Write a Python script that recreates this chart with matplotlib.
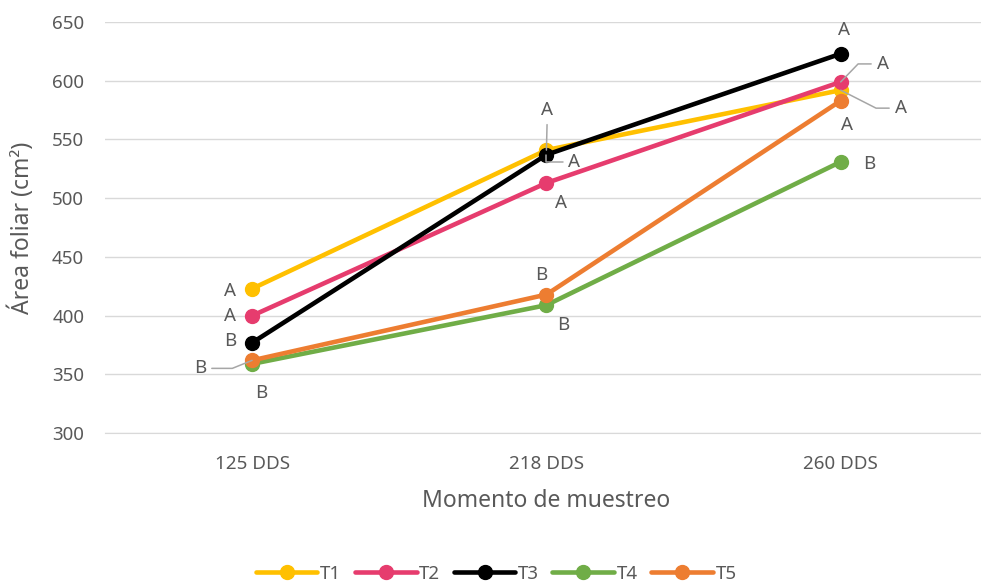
import matplotlib.pyplot as plt

plt.rcParams["font.family"] = ["Noto Sans", "DejaVu Sans"]

moments = ["125 DDS", "218 DDS", "260 DDS"]
series_names = ["T1", "T2", "T3", "T4", "T5"]
t1 = [423, 541, 592]
t2 = [400, 513, 599]
t3 = [377, 537, 623]
t4 = [359, 409, 531]
t5 = [362, 418, 583]
letters = {
    "T1": ["A", "A", "A"],
    "T2": ["A", "A", "A"],
    "T3": ["B", "A", "A"],
    "T4": ["B", "B", "B"],
    "T5": ["B", "B", "A"],
}
colors = ["#FFC000", "#E63C6E", "#000000", "#70AD47", "#ED7D31"]

# label offsets in pixels from the point, plus optional leader style
label_pos = {
    "T1": [((-22, -2), None), ((1, 40), "arc3"), ((60, -18), "angle,angleA=0,angleB=-27,rad=0")],
    "T2": [((-22, 0), None), ((15, -20), None), ((42, 18), "angle,angleA=0,angleB=46,rad=0")],
    "T3": [((-22, 2), None), ((28, -7), "angle,angleA=0,angleB=90,rad=0"), ((3, 24), None)],
    "T4": [((9, -29), None), ((17, -20), None), ((29, -2), None)],
    "T5": [((-52, -8), "angle,angleA=0,angleB=22,rad=0"), ((-5, 20), None), ((6, -24), None)],
}

TXT = "#595959"
GRID = "#D9D9D9"

fig = plt.figure(figsize=(9.81, 5.87), dpi=100)
ax = fig.add_axes([0.107, 0.262, 0.9, 0.7005])

x = list(range(len(moments)))
values = [t1, t2, t3, t4, t5]
for i, (name, vals) in enumerate(zip(series_names, values)):
    ax.plot(x, vals, color=colors[i], lw=3.3, marker="o", markersize=10,
            solid_capstyle="round", label=name, zorder=3 + i)

for i, (name, vals) in enumerate(zip(series_names, values)):
    for j, v in enumerate(vals):
        (dx, dy), leader = label_pos[name][j]
        kw = {}
        if leader:
            kw["arrowprops"] = dict(arrowstyle="-", color="#A6A6A6", lw=1.1,
                                    connectionstyle=leader, shrinkA=2, shrinkB=0)
        ax.annotate(letters[name][j], (j, v), xytext=(dx, dy), textcoords="offset pixels",
                    ha="center", va="center", fontsize=13.5, color=TXT, zorder=10, **kw)

ax.set_xlim(-0.5, 2.5)
ax.set_ylim(300, 650)
ax.set_yticks(range(300, 651, 50))
ax.set_xticks(x)
ax.set_xticklabels(moments)
ax.grid(axis="y", color=GRID, lw=1)
ax.set_axisbelow(True)
for s in ["top", "right", "left"]:
    ax.spines[s].set_visible(False)
ax.spines["bottom"].set_color(GRID)
ax.spines["bottom"].set_bounds(-0.5, 2.48)
ax.tick_params(length=0, labelsize=13.5, colors=TXT)
ax.tick_params(axis="x", pad=16)
ax.tick_params(axis="y", pad=15)

ax.set_xlabel("Momento de muestreo", fontsize=16.5, color=TXT, labelpad=11)
ax.set_ylabel("Área foliar (cm²)", fontsize=16.5, color=TXT, labelpad=12)

leg = fig.legend(loc="lower center", bbox_to_anchor=(0.506, -0.022), ncol=5, frameon=False,
                 fontsize=13.5, handlelength=3.3, columnspacing=0.7, handletextpad=0.15)
for t in leg.get_texts():
    t.set_color(TXT)

fig.savefig("out.png", dpi=100)
